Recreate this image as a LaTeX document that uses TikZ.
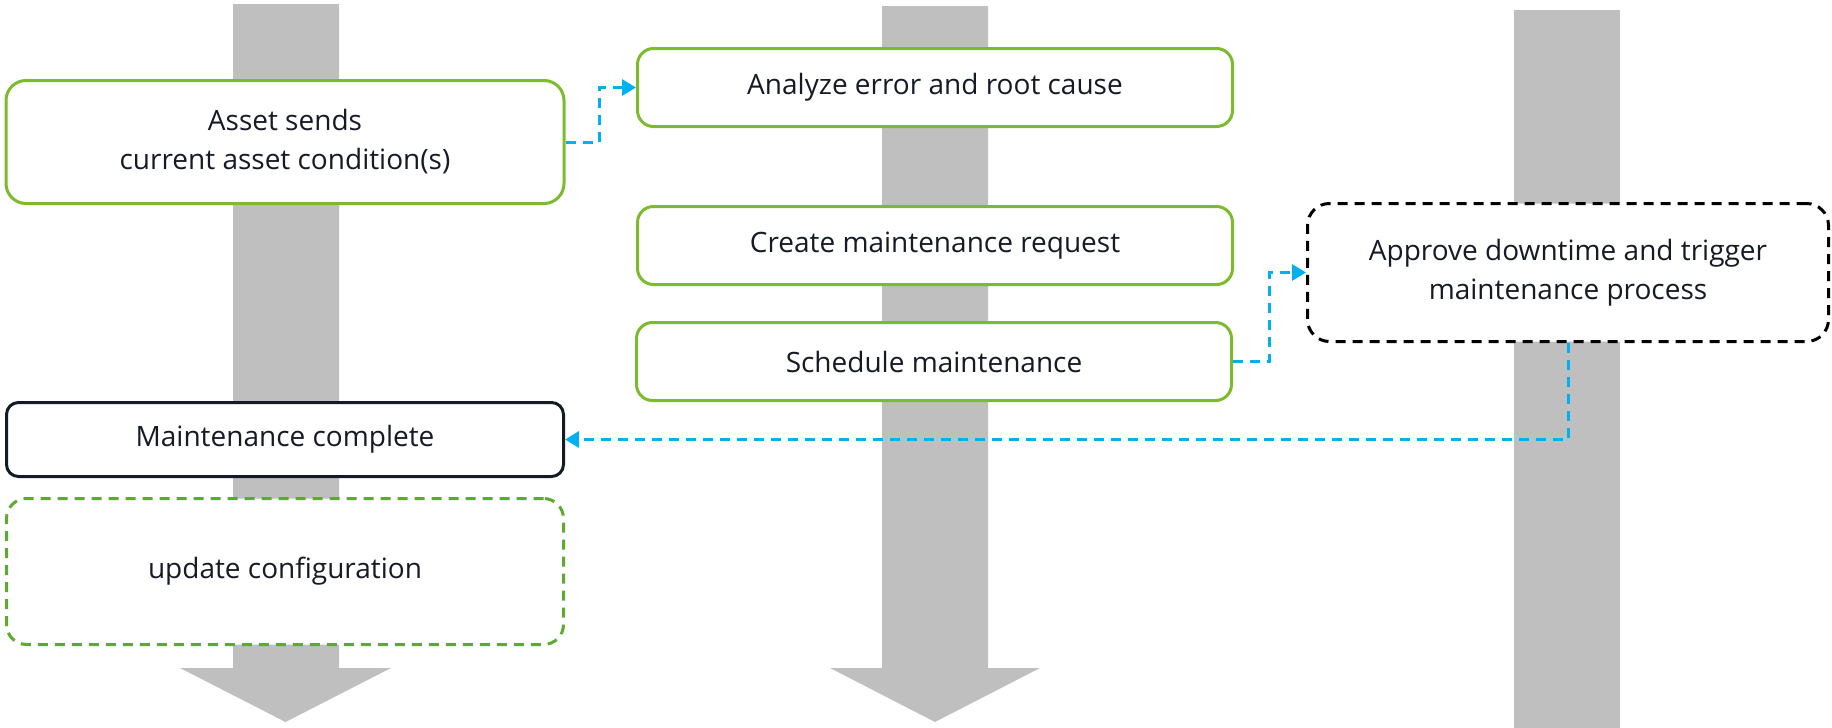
\documentclass[tikz,border=0pt]{standalone}
\usepackage{fontspec}
\setmainfont{Open Sans}
\usetikzlibrary{arrows.meta}
\definecolor{taskgreen}{HTML}{7CBA2E}
\definecolor{todogreen}{HTML}{5DAA32}
\definecolor{linkblue}{HTML}{00B0F0}
\definecolor{lanegray}{HTML}{BFBFBF}
\definecolor{textdark}{HTML}{161A26}
\begin{document}
\begin{tikzpicture}[x=1pt,y=-1pt,
    task/.style ={rectangle, rounded corners=16pt, draw=taskgreen, line width=3pt, fill=white, text=textdark,
                  align=center, inner sep=0pt, font=\fontsize{28}{39}\selectfont},
    link/.style ={draw=linkblue, line width=3pt, dash pattern=on 10pt off 7pt, -{Triangle[length=14pt,width=16pt]}}]
   \useasboundingbox (0,0) rectangle (1832,728);
   % lanes
   \fill[lanegray] (233,4) -- (339,4) -- (339,668) -- (391,668) -- (285.5,722) -- (180,668) -- (233,668) -- cycle;
   \fill[lanegray] (882,6) -- (988,6) -- (988,668) -- (1040,668) -- (935,722) -- (830,668) -- (882,668) -- cycle;
   \fill[lanegray] (1514,10) rectangle (1620,728);
   % tasks
   \node[task, rounded corners=20pt, minimum width=558pt, minimum height=123pt] (asset) at (285,142) {Asset sends\\current asset condition(s)};
   \node[task, minimum width=595pt, minimum height=78pt] (analyze) at (935,87.5) {Analyze error and root cause};
   \node[task, minimum width=595pt, minimum height=78pt] (create) at (935,245.5) {Create maintenance request};
   \node[task, minimum width=595pt, minimum height=78pt] (schedule) at (934,361.5) {Schedule maintenance};
   \node[task, draw=black, dash pattern=on 10pt off 7pt, rounded corners=22pt, minimum width=521pt, minimum height=138pt] (approve) at (1568,272.5) {Approve downtime and trigger\\maintenance process};
   \node[task, draw=textdark, rounded corners=12pt, minimum width=557pt, minimum height=74pt] (complete) at (285,439.5) {Maintenance complete};
   \node[task, draw=todogreen, dash pattern=on 10pt off 7pt, rounded corners=20pt, minimum width=557pt, minimum height=146pt] (update) at (285,571.5) {update configuration};
   % links
   \draw[link] (asset.east) -- ++(34,0) |- (analyze.west);
   \draw[link] (schedule.east) -- ++(36,0) |- (approve.west);
   \draw[link] (approve.south) |- (complete.east);
 \end{tikzpicture}
\end{document}
